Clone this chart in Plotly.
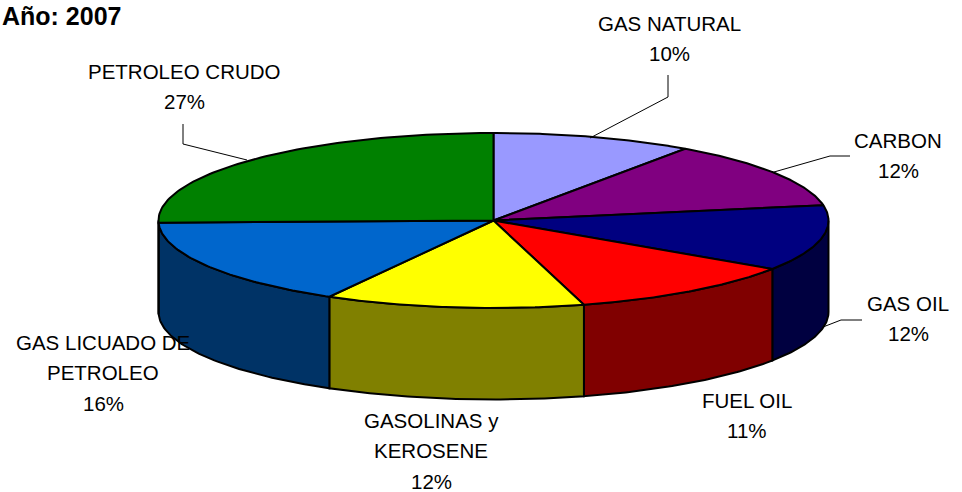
import numpy as np
import plotly.graph_objects as go

categories = ["GAS NATURAL", "CARBON", "GAS OIL", "FUEL OIL", "GASOLINAS y<br>KEROSENE",
              "GAS LICUADO DE<br>PETROLEO", "PETROLEO CRUDO"]
shown_percent = ["10%", "12%", "12%", "11%", "12%", "16%", "27%"]
slice_values = [9.7, 12.5, 12.15, 11.3, 12.5, 16.45, 25.4]
top_colors = ["#9999FF", "#800080", "#000080", "#FF0000", "#FFFF00", "#0066CC", "#008000"]
side_colors = ["#4D4D80", "#400040", "#000040", "#800000", "#808000", "#003366", "#004000"]
title_text = "Año: 2007"

# Pie projection (in pixel-scaled axes)
CX, CY, RX, RY, DEPTH = 493.5, 220.5, 335, 87.5, 91.5
LINE_STEP = 30.5
label_pos = [(669, 23), (898, 140), (908, 303), (747, 400), (431, 420), (103, 342), (184, 71)]
leaders = [
    ([590, 668, 668], [138, 97, 75]),
    ([774, 830, 850], [172, 156, 156]),
    ([823, 841, 862], [327, 320, 320]),
    ([183, 183, 247], [124, 144, 160]),
]


def ell(t, dy=0.0):
    t = np.radians(t)
    return CX + RX * np.sin(t), CY - RY * np.cos(t) + dy


fracs = np.array(slice_values) / sum(slice_values) * 360
edges = np.concatenate([[0], np.cumsum(fracs)])
fig = go.Figure()
line = dict(color="black", width=2)

# outer side walls, visible in the front half only
for i, col in enumerate(side_colors):
    a, b = max(edges[i], 90), min(edges[i + 1], 270)
    if a >= b:
        continue
    t = np.linspace(a, b, 60)
    x1, y1 = ell(t)
    x2, y2 = ell(t[::-1], DEPTH)
    fig.add_trace(go.Scatter(x=np.r_[x1, x2, x1[0]], y=np.r_[y1, y2, y1[0]], mode="lines",
                             fill="toself", fillcolor=col, line=line, hoverinfo="skip"))

# top faces
for i, col in enumerate(top_colors):
    t = np.linspace(edges[i], edges[i + 1], 80)
    x, y = ell(t)
    fig.add_trace(go.Scatter(x=np.r_[CX, x, CX], y=np.r_[CY, y, CY], mode="lines",
                             fill="toself", fillcolor=col, line=line, hoverinfo="skip"))

for lx, ly in leaders:
    fig.add_trace(go.Scatter(x=lx, y=ly, mode="lines", line=dict(color="black", width=1),
                             hoverinfo="skip"))

ann = []
for c, p, (px, py) in zip(categories, shown_percent, label_pos):
    for k, txt in enumerate(c.split("<br>") + [p]):
        ann.append(dict(x=px, y=py + k * LINE_STEP, text=txt, showarrow=False, xref="x", yref="y",
                        font=dict(family="Liberation Sans", size=20.5, color="black"),
                        xanchor="center", yanchor="middle"))
ann.append(dict(x=1 / 962, y=1 - 16 / 492, text=f"<b>{title_text}</b>", showarrow=False,
                xref="paper", yref="paper",
                font=dict(family="Liberation Sans", size=25, color="black"),
                xanchor="left", yanchor="middle", borderpad=0))

fig.update_layout(
    width=962, height=492, margin=dict(l=0, r=0, t=0, b=0), showlegend=False,
    paper_bgcolor="white", plot_bgcolor="white", annotations=ann,
    xaxis=dict(range=[0, 962], visible=False, fixedrange=True),
    yaxis=dict(range=[492, 0], visible=False, fixedrange=True),
)
fig.write_html("out.html", config={"displayModeBar": False},
               post_script="document.body.style.margin='0';document.body.style.overflow='hidden';")
